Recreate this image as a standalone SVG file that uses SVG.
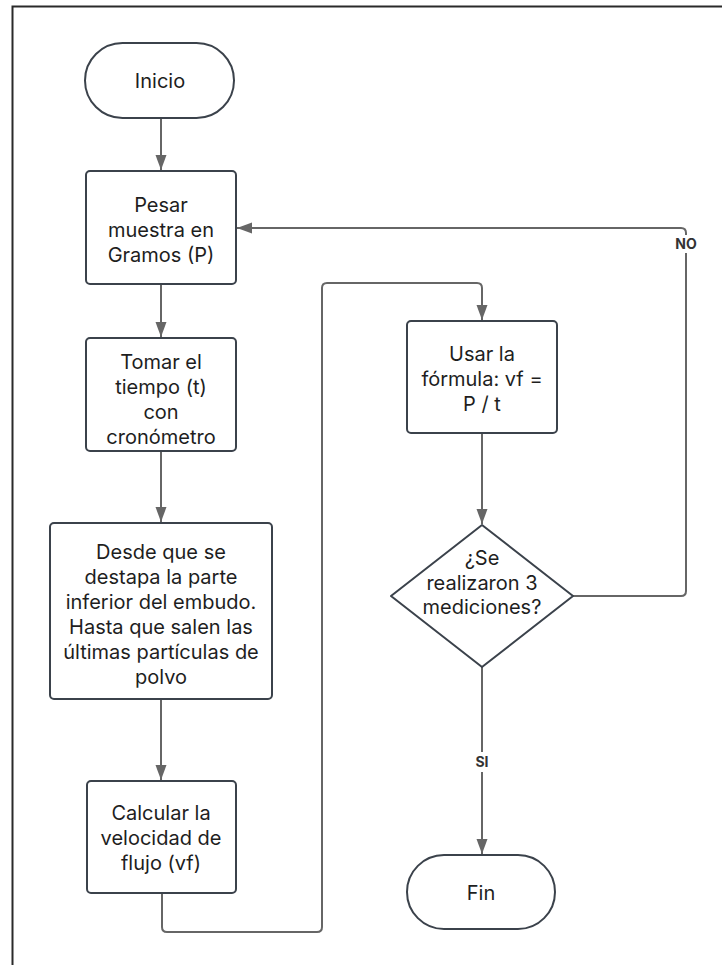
<svg xmlns="http://www.w3.org/2000/svg" width="722" height="965" viewBox="0 0 722 965">
  <style>
    .node { fill: #ffffff; stroke: #3b424b; stroke-width: 2; }
    .lbl { font-family: Inter, "Liberation Sans", sans-serif; font-size: 20px; fill: #1e1e1e; text-anchor: middle; }
    .conn { fill: none; stroke: #666666; stroke-width: 2; }
    .tag { font-family: Inter, "Liberation Sans", sans-serif; font-size: 14px; font-weight: bold; fill: #333333; text-anchor: middle; }
  </style>
  <defs>
    <marker id="arrow" markerWidth="16" markerHeight="12" refX="15" refY="5.5" orient="auto" markerUnits="userSpaceOnUse">
      <path d="M0,0 L15,5.5 L0,11 Z" fill="#666666"/>
    </marker>
  </defs>

  <rect x="0" y="0" width="722" height="965" fill="#ffffff"/>
  <!-- page frame -->
  <path d="M12.5,965 V6.5 H722" fill="none" stroke="#2a2a2a" stroke-width="2"/>

  <g id="connectors">
    <path class="conn" d="M161,118 V170" marker-end="url(#arrow)"/>
    <path class="conn" d="M161,284 V337" marker-end="url(#arrow)"/>
    <path class="conn" d="M161,451 V522" marker-end="url(#arrow)"/>
    <path class="conn" d="M161,699 V780" marker-end="url(#arrow)"/>
    <path class="conn" d="M162,893 V927 Q162,932 167,932 H317 Q322,932 322,927 V288 Q322,283 327,283 H477 Q482,283 482,288 V320" marker-end="url(#arrow)"/>
    <path class="conn" d="M482,433 V524" marker-end="url(#arrow)"/>
    <path class="conn" d="M573,596 H681 Q686,596 686,591 V233 Q686,228 681,228 H237" marker-end="url(#arrow)"/>
    <path class="conn" d="M482,667 V854" marker-end="url(#arrow)"/>
    <rect x="670" y="235" width="32" height="18" fill="#ffffff"/>
    <text class="tag" x="686" y="249">NO</text>
    <rect x="472" y="752" width="20" height="20" fill="#ffffff"/>
    <text class="tag" x="482" y="767">SI</text>
  </g>

  <g id="inicio">
    <rect class="node" x="85" y="43" width="149" height="75" rx="37.5"/>
    <text class="lbl" x="160" y="88">Inicio</text>
  </g>

  <g id="pesar">
    <rect class="node" x="86" y="171" width="150" height="113" rx="4"/>
    <text class="lbl" x="161" y="212">Pesar</text>
    <text class="lbl" x="161" y="237">muestra en</text>
    <text class="lbl" x="161" y="262">Gramos (P)</text>
  </g>

  <g id="tomar">
    <rect class="node" x="86" y="338" width="150" height="113" rx="4"/>
    <text class="lbl" x="161" y="369">Tomar el</text>
    <text class="lbl" x="161" y="394">tiempo (t)</text>
    <text class="lbl" x="161" y="419">con</text>
    <text class="lbl" x="161" y="444">cronómetro</text>
  </g>

  <g id="desde">
    <rect class="node" x="50" y="523" width="222" height="176" rx="4"/>
    <text class="lbl" x="161" y="559">Desde que se</text>
    <text class="lbl" x="161" y="584">destapa la parte</text>
    <text class="lbl" x="161" y="609">inferior del embudo.</text>
    <text class="lbl" x="161" y="634">Hasta que salen las</text>
    <text class="lbl" x="161" y="659">últimas partículas de</text>
    <text class="lbl" x="161" y="684">polvo</text>
  </g>

  <g id="calcular">
    <rect class="node" x="87" y="781" width="149" height="112" rx="4"/>
    <text class="lbl" x="161" y="820">Calcular la</text>
    <text class="lbl" x="161" y="845">velocidad de</text>
    <text class="lbl" x="161" y="870">flujo (vf)</text>
  </g>

  <g id="usar">
    <rect class="node" x="407" y="321" width="150" height="112" rx="4"/>
    <text class="lbl" x="482" y="361">Usar la</text>
    <text class="lbl" x="482" y="386">fórmula: vf =</text>
    <text class="lbl" x="482" y="411">P / t</text>
  </g>

  <g id="decision">
    <path class="node" d="M482,525 L573,596 L482,667 L391,596 Z" stroke-linejoin="round"/>
    <text class="lbl" x="482" y="565">¿Se</text>
    <text class="lbl" x="482" y="590">realizaron 3</text>
    <text class="lbl" x="482" y="614">mediciones?</text>
  </g>

  <g id="fin">
    <rect class="node" x="407" y="855" width="148" height="74" rx="37"/>
    <text class="lbl" x="481" y="900">Fin</text>
  </g>
</svg>
